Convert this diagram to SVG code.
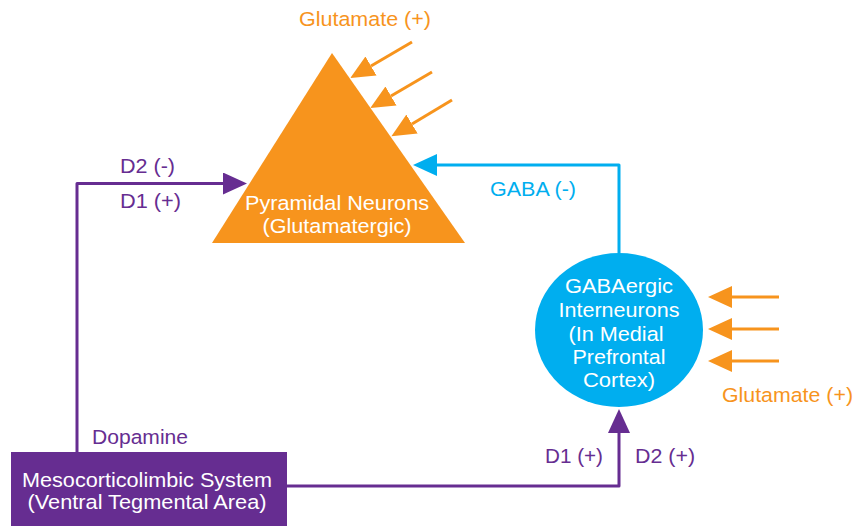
<svg xmlns="http://www.w3.org/2000/svg" width="856" height="526" viewBox="0 0 856 526">
<style>
text{font-family:"Liberation Sans",Arial,sans-serif;font-size:20.5px}
.w{fill:#fff}.o{fill:#F7941D}.b{fill:#00AEEF}.p{fill:#662D91}
.lo{stroke:#F7941D;stroke-width:3;fill:none}
.lb{stroke:#00AEEF;stroke-width:3;fill:none}
.lp{stroke:#662D91;stroke-width:3;fill:none}
</style>
<defs>
<marker id="ao" markerUnits="userSpaceOnUse" markerWidth="24" markerHeight="22" refX="0" refY="11" orient="auto"><path d="M0,0L24,11L0,22z" fill="#F7941D"/></marker>
<marker id="ab" markerUnits="userSpaceOnUse" markerWidth="24" markerHeight="22" refX="0" refY="11" orient="auto"><path d="M0,0L24,11L0,22z" fill="#00AEEF"/></marker>
<marker id="ap" markerUnits="userSpaceOnUse" markerWidth="24" markerHeight="22" refX="0" refY="11" orient="auto"><path d="M0,0L24,11L0,22z" fill="#662D91"/></marker>
</defs>
<g id="pyramidal">
<polygon points="332,53 465,243 212,243" fill="#F7941D"/>
<text class="w" x="337" y="210" text-anchor="middle" textLength="184" lengthAdjust="spacingAndGlyphs">Pyramidal Neurons</text>
<text class="w" x="337" y="233" text-anchor="middle" textLength="149" lengthAdjust="spacingAndGlyphs">(Glutamatergic)</text>
</g>
<g id="gabaergic">
<ellipse cx="619" cy="330" rx="84" ry="77" fill="#00AEEF"/>
<text class="w" x="619" y="293" text-anchor="middle" textLength="108" lengthAdjust="spacingAndGlyphs">GABAergic</text>
<text class="w" x="619" y="317" text-anchor="middle" textLength="121" lengthAdjust="spacingAndGlyphs">Interneurons</text>
<text class="w" x="616" y="341" text-anchor="middle" textLength="95" lengthAdjust="spacingAndGlyphs">(In Medial</text>
<text class="w" x="619" y="364" text-anchor="middle" textLength="93" lengthAdjust="spacingAndGlyphs">Prefrontal</text>
<text class="w" x="619" y="387" text-anchor="middle" textLength="72" lengthAdjust="spacingAndGlyphs">Cortex)</text>
</g>
<g id="vta">
<rect x="11" y="452" width="276" height="74" fill="#662D91"/>
<text class="w" x="147" y="487" text-anchor="middle" textLength="250" lengthAdjust="spacingAndGlyphs">Mesocorticolimbic System</text>
<text class="w" x="147" y="509" text-anchor="middle" textLength="239" lengthAdjust="spacingAndGlyphs">(Ventral Tegmental Area)</text>
</g>
<g id="connectors">
<line class="lo" x1="412" y1="42" x2="371" y2="66" marker-end="url(#ao)"/>
<line class="lo" x1="432" y1="72" x2="391" y2="96" marker-end="url(#ao)"/>
<line class="lo" x1="452" y1="100" x2="412" y2="124" marker-end="url(#ao)"/>
<line class="lo" x1="779" y1="297" x2="732" y2="297" marker-end="url(#ao)"/>
<line class="lo" x1="779" y1="329" x2="732" y2="329" marker-end="url(#ao)"/>
<line class="lo" x1="779" y1="361" x2="732" y2="361" marker-end="url(#ao)"/>
<polyline class="lb" points="619,253 619,165 437,165" stroke-linejoin="round" marker-end="url(#ab)"/>
<polyline class="lp" points="77,452 77,183.5 223,183.5" stroke-linejoin="round" marker-end="url(#ap)"/>
<polyline class="lp" points="287,486 619,486 619,433" stroke-linejoin="round" marker-end="url(#ap)"/>
</g>
<g id="labels">
<text class="o" x="299" y="26" textLength="132" lengthAdjust="spacingAndGlyphs">Glutamate (+)</text>
<text class="o" x="722" y="402" textLength="131" lengthAdjust="spacingAndGlyphs">Glutamate (+)</text>
<text class="b" x="490" y="196" textLength="86" lengthAdjust="spacingAndGlyphs">GABA (-)</text>
<text class="p" x="120" y="173" textLength="55" lengthAdjust="spacingAndGlyphs">D2 (-)</text>
<text class="p" x="120" y="208" textLength="61" lengthAdjust="spacingAndGlyphs">D1 (+)</text>
<text class="p" x="92" y="444" textLength="96" lengthAdjust="spacingAndGlyphs">Dopamine</text>
<text class="p" x="545" y="463" textLength="58" lengthAdjust="spacingAndGlyphs">D1 (+)</text>
<text class="p" x="635" y="463" textLength="60" lengthAdjust="spacingAndGlyphs">D2 (+)</text>
</g>
</svg>
